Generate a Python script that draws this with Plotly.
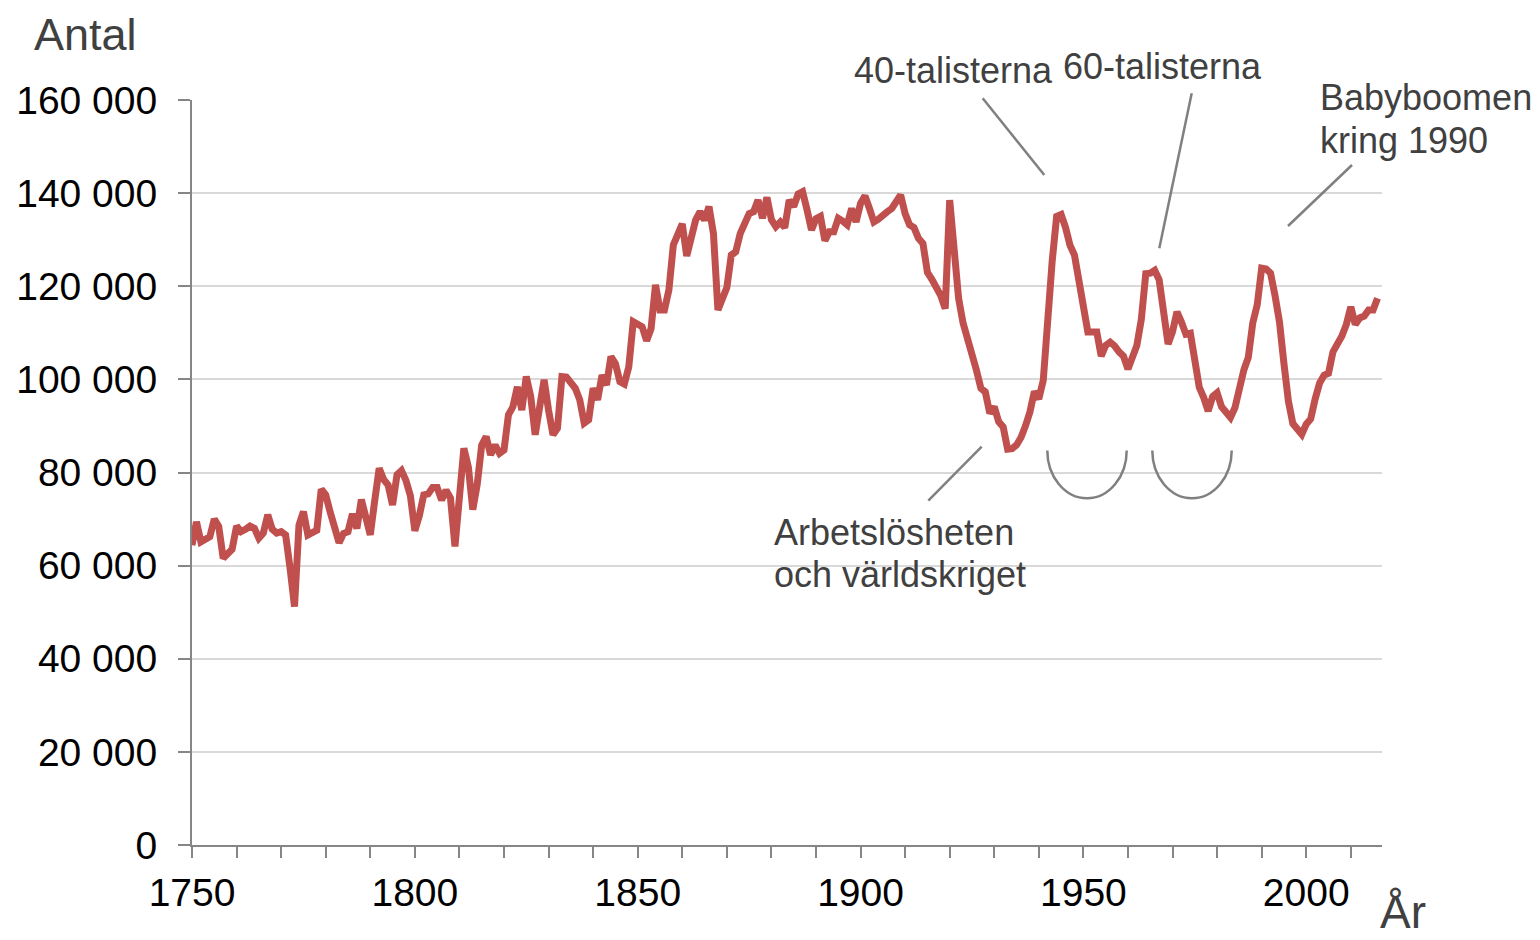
import plotly.graph_objects as go

# ---------------- data ----------------
years = list(range(1750, 2017))
births_thousands = [
    64.4, 69.4, 65.1, 65.6, 66.2, 70.0, 68.4, 61.6, 62.5, 63.5,        # 1750-1759
    68.5, 67.3, 67.8, 68.5, 68.0, 65.9, 67.0, 70.9, 67.8, 67.0,        # 1760-1769
    67.3, 66.6, 59.5, 51.2, 68.7, 71.6, 66.6, 67.0, 67.6, 76.4,        # 1770-1779
    75.2, 71.5, 68.0, 64.9, 66.9, 67.3, 71.1, 68.0, 74.2, 70.5,        # 1780-1789
    66.6, 74.0, 80.9, 78.5, 77.3, 73.0, 79.5, 80.4, 78.3, 75.0,        # 1790-1799
    67.5, 70.7, 75.2, 75.4, 76.8, 76.8, 74.1, 76.2, 74.5, 64.1,        # 1800-1809
    75.0, 85.2, 81.2, 72.0, 77.5, 85.9, 87.7, 83.8, 85.9, 84.1,        # 1810-1819
    84.8, 92.4, 94.1, 98.4, 93.4, 100.6, 96.3, 88.1, 94.0, 99.9,       # 1820-1829
    93.4, 88.1, 89.5, 100.6, 100.5, 99.0, 98.1, 95.6, 90.6, 91.3,      # 1830-1839
    98.1, 95.6, 100.9, 98.8, 104.9, 103.4, 99.5, 99.0, 102.7, 112.4,   # 1840-1849
    111.7, 111.3, 108.3, 110.9, 120.3, 114.9, 114.9, 119.2, 128.9, 131.3,  # 1850-1859
    133.4, 126.5, 131.0, 134.2, 136.0, 134.2, 137.1, 131.3, 114.9, 117.0,  # 1860-1869
    119.7, 126.7, 127.4, 131.3, 133.2, 135.6, 136.0, 138.5, 134.6, 139.1,  # 1870-1879
    134.3, 132.8, 133.8, 132.6, 138.5, 137.1, 139.8, 140.3, 136.4, 132.1,  # 1880-1889
    134.5, 135.0, 129.8, 131.7, 131.7, 134.6, 134.0, 133.2, 136.7, 133.8,  # 1890-1899
    137.8, 139.4, 136.7, 133.8, 134.4, 135.0, 136.0, 136.7, 138.5, 139.6,  # 1900-1909
    135.6, 133.2, 132.6, 130.3, 129.2, 123.0, 121.5, 120.0, 118.0, 115.2,  # 1910-1919
    138.5, 128.0, 117.4, 112.1, 109.0, 105.0, 102.0, 98.1, 97.3, 92.7,     # 1920-1929
    94.1, 90.9, 89.8, 85.0, 85.1, 85.9, 87.5, 90.0, 93.0, 97.4,            # 1930-1939
    95.8, 99.8, 114.0, 125.4, 135.0, 135.4, 132.6, 128.8, 126.7, 121.3,    # 1940-1949
    115.4, 110.2, 110.2, 110.2, 105.0, 107.3, 108.0, 107.2, 105.9, 105.0,  # 1950-1959
    102.2, 104.5, 107.3, 112.9, 122.7, 122.8, 123.4, 121.4, 113.1, 107.6,  # 1960-1969
    110.2, 114.5, 112.3, 109.7, 109.9, 103.6, 98.3, 96.1, 93.2, 96.3,      # 1970-1979
    97.1, 94.1, 92.7, 91.8, 93.9, 98.5, 102.0, 104.7, 112.1, 116.0,        # 1980-1989
    123.9, 123.7, 122.8, 118.0, 112.3, 103.4, 95.3, 90.5, 89.0, 88.2,      # 1990-1999
    90.4, 91.5, 95.8, 99.2, 100.9, 101.3, 105.9, 107.4, 109.3, 111.8,      # 2000-2009
    115.6, 111.8, 113.2, 113.6, 114.9, 114.9, 117.4,                       # 2010-2016
]
births = [v * 1000 for v in births_thousands]

x_tick_vals = [1750, 1800, 1850, 1900, 1950, 2000]
y_tick_vals = [0, 20000, 40000, 60000, 80000, 100000, 120000, 140000, 160000]

y_title = "Antal"
x_title = "År"
notes = {
    "forties": "40-talisterna",
    "sixties": "60-talisterna",
    "baby1": "Babyboomen",
    "baby2": "kring 1990",
    "crisis1": "Arbetslösheten",
    "crisis2": "och världskriget",
}

# ---------------- layout helpers (page pixel -> paper) ----------------
# The page body has an 8px margin, so the figure starts at (8, 8) in the page.
OFF = 8
W, H = 1540 - OFF, 940 - OFF
PL, PR, PT, PB = 192, 1382, 100, 845          # plot area in page pixels
L, T = PL - OFF, PT - OFF
R, B = W - (PR - OFF), H - (PB - OFF)
PW, PH = PR - PL, PB - PT


def px(xp):
    return (xp - PL) / PW


def py(yp):
    return (PB - yp) / PH


FONT = "Liberation Sans, Arial, sans-serif"
TXT = "#404040"
GRAY = "#868686"
LINEC = "#808080"

fig = go.Figure()
fig.add_trace(go.Scatter(
    x=years, y=births, mode="lines",
    line=dict(color="#C0504D", width=7),
    hoverinfo="skip", showlegend=False,
))

annotations = []


def add_text(text, x, y, size=36, xanchor="center", color=TXT, pad=1):
    annotations.append(dict(
        text=text, x=px(x), y=py(y), xref="paper", yref="paper",
        xanchor=xanchor, yanchor="middle", showarrow=False, borderpad=pad,
        font=dict(family=FONT, size=size, color=color),
    ))


add_text(y_title, 33, 34, size=45, xanchor="left", pad=0)
add_text(x_title, 1378, 912, size=46, xanchor="left")
add_text(notes["forties"], 953.5, 70.7)
add_text(notes["sixties"], 1162.5, 66.7)
add_text(notes["baby1"], 1318, 97.4, xanchor="left")
add_text(notes["baby2"], 1318, 140.4, xanchor="left")
add_text(notes["crisis1"], 772, 532.4, xanchor="left")
add_text(notes["crisis2"], 772, 574.0, xanchor="left")

shapes = []


def add_line(x0, y0, x1, y1):
    shapes.append(dict(type="line", xref="paper", yref="paper",
                       x0=px(x0), y0=py(y0), x1=px(x1), y1=py(y1),
                       line=dict(color=LINEC, width=2.5)))


add_line(982.7, 98.3, 1044.3, 175.0)
add_line(1191.7, 93.3, 1159.3, 248.3)
add_line(1352.0, 165.0, 1288.0, 226.0)
add_line(981.7, 446.7, 928.3, 500.7)


def add_arc(cx, cy, rx, ry):
    k = 0.5523
    pts = [
        (cx - rx, cy),
        (cx - rx, cy + k * ry), (cx - k * rx, cy + ry), (cx, cy + ry),
        (cx + k * rx, cy + ry), (cx + rx, cy + k * ry), (cx + rx, cy),
    ]
    p = [(px(a), py(b)) for a, b in pts]
    path = (f"M {p[0][0]},{p[0][1]} "
            f"C {p[1][0]},{p[1][1]} {p[2][0]},{p[2][1]} {p[3][0]},{p[3][1]} "
            f"C {p[4][0]},{p[4][1]} {p[5][0]},{p[5][1]} {p[6][0]},{p[6][1]}")
    shapes.append(dict(type="path", xref="paper", yref="paper", path=path,
                       line=dict(color=LINEC, width=2.5)))


add_arc(1087.0, 450.5, 39.7, 47.8)
add_arc(1192.0, 450.5, 39.7, 47.8)

fig.update_layout(
    template="none",
    width=W, height=H,
    margin=dict(l=L, r=R, t=T, b=B, pad=0),
    paper_bgcolor="white", plot_bgcolor="white",
    separators=", ",
    font=dict(family=FONT, color="black"),
    annotations=annotations,
    shapes=shapes,
    showlegend=False,
    xaxis=dict(
        range=[1750, 2017], tickvals=x_tick_vals, tickformat="d",
        showgrid=False, zeroline=False, automargin=False,
        showline=True, linecolor=GRAY, linewidth=2,
        ticks="outside", ticklen=11, tickwidth=2, tickcolor=GRAY,
        tickfont=dict(family=FONT, size=39, color="black"),
        ticklabelstandoff=1,
        minor=dict(tick0=1750, dtick=10, ticks="outside", ticklen=11,
                   tickwidth=2, tickcolor=GRAY, showgrid=False),
    ),
    yaxis=dict(
        range=[0, 160000], tickvals=y_tick_vals, tickformat=",d",
        showgrid=True, gridcolor="#D9D9D9", gridwidth=2,
        zeroline=False, automargin=False,
        showline=True, linecolor=GRAY, linewidth=2,
        ticks="outside", ticklen=12, tickwidth=2, tickcolor=GRAY,
        tickfont=dict(family=FONT, size=39, color="black"),
        ticklabelstandoff=13,
    ),
)

fig.write_html("out.html")
